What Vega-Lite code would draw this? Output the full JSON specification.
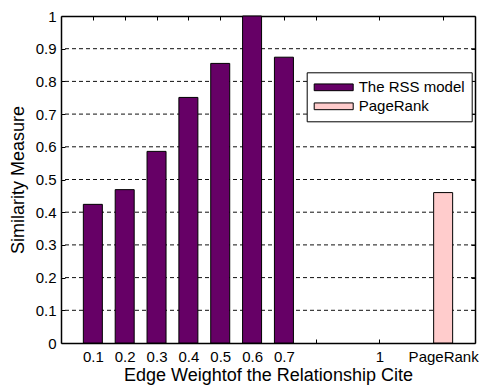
{
  "$schema": "https://vega.github.io/schema/vega-lite/v6.json",
  "width": 414,
  "height": 327,
  "autosize": "none",
  "padding": {"left": 61, "top": 16, "right": 4, "bottom": 44},
  "background": "white",
  "config": {
    "font": "Liberation Sans",
    "view": {"stroke": null},
    "axis": {
      "domainColor": "black",
      "domainWidth": 1.5,
      "tickColor": "black",
      "tickWidth": 1,
      "labelColor": "black",
      "labelFontSize": 15,
      "titleColor": "black",
      "titleFontSize": 18,
      "titleFontWeight": "normal",
      "grid": false
    }
  },
  "datasets": {
    "bars": [
      {"pos": 1, "weight": "0.1", "value": 0.424, "series": "The RSS model"},
      {"pos": 2, "weight": "0.2", "value": 0.469, "series": "The RSS model"},
      {"pos": 3, "weight": "0.3", "value": 0.586, "series": "The RSS model"},
      {"pos": 4, "weight": "0.4", "value": 0.751, "series": "The RSS model"},
      {"pos": 5, "weight": "0.5", "value": 0.855, "series": "The RSS model"},
      {"pos": 6, "weight": "0.6", "value": 1.0, "series": "The RSS model"},
      {"pos": 7, "weight": "0.7", "value": 0.874, "series": "The RSS model"},
      {"pos": 12, "weight": "PageRank", "value": 0.46, "series": "PageRank"}
    ],
    "gridlines": [
      {"value": 0.1}, {"value": 0.2}, {"value": 0.3}, {"value": 0.4}, {"value": 0.5},
      {"value": 0.6}, {"value": 0.7}, {"value": 0.8}, {"value": 0.9}
    ]
  },
  "layer": [
    {
      "data": {"name": "gridlines"},
      "mark": {"type": "rule", "stroke": "#111111", "strokeDash": [4, 3], "strokeWidth": 1},
      "encoding": {
        "y": {"field": "value", "type": "quantitative", "axis": null}
      }
    },
    {
      "data": {"name": "bars"},
      "mark": {"type": "bar", "width": 19, "stroke": "black", "strokeWidth": 1},
      "encoding": {
        "x": {
          "field": "pos",
          "type": "quantitative",
          "scale": {"domain": [0, 13], "nice": false, "zero": false, "padding": 0},
          "axis": {
            "orient": "bottom",
            "tickSize": -4,
            "values": [1, 2, 3, 4, 5, 6, 7, 8, 10, 12],
            "labelExpr": "datum.value <= 7 ? format(datum.value / 10, '.1f') : (datum.value == 10 ? '1' : (datum.value == 12 ? 'PageRank' : ''))",
            "labelPadding": 10,
            "labelFlush": false,
            "labelOverlap": false,
            "labelBound": false,
            "title": "Edge Weightof the Relationship Cite",
            "titleBaseline": "alphabetic",
            "titleY": 37
          }
        },
        "y": {
          "field": "value",
          "type": "quantitative",
          "scale": {"domain": [0, 1], "nice": false, "padding": 0},
          "axis": {
            "orient": "left",
            "tickSize": -4,
            "values": [0, 0.1, 0.2, 0.3, 0.4, 0.5, 0.6, 0.7, 0.8, 0.9, 1],
            "format": "~g",
            "labelPadding": 9,
            "labelFlush": false,
            "labelOverlap": false,
            "title": "Similarity Measure",
            "titleBaseline": "alphabetic",
            "titleX": -37.5,
            "titleY": 163.5
          }
        },
        "color": {
          "field": "series",
          "type": "nominal",
          "scale": {"domain": ["The RSS model", "PageRank"], "range": ["#660066", "#FFCCCC"]},
          "legend": {
            "orient": "none",
            "legendX": 245.7,
            "legendY": 56.3,
            "title": null,
            "symbolType": "M-2.6,-0.45H2.6V0.45H-2.6Z",
            "symbolSize": 225,
            "symbolOffset": 12,
            "symbolStrokeColor": "black",
            "symbolStrokeWidth": 1,
            "labelFontSize": 15,
            "labelColor": "black",
            "labelOffset": 17,
            "padding": 7,
            "rowPadding": 3,
            "strokeColor": "black",
            "fillColor": "white",
            "cornerRadius": 0
          }
        }
      }
    },
    {
      "data": {"name": "bars"},
      "mark": {"type": "bar", "width": 19, "opacity": 0},
      "encoding": {
        "x": {
          "field": "pos",
          "type": "quantitative",
          "axis": {"orient": "top", "tickSize": -4, "values": [1, 2, 3, 4, 5, 6, 7, 8, 10, 12], "labels": false, "title": null}
        },
        "y": {
          "field": "value",
          "type": "quantitative",
          "axis": {"orient": "right", "tickSize": -4, "values": [0, 0.1, 0.2, 0.3, 0.4, 0.5, 0.6, 0.7, 0.8, 0.9, 1], "labels": false, "title": null}
        }
      }
    }
  ],
  "resolve": {"axis": {"x": "independent", "y": "independent"}}
}
